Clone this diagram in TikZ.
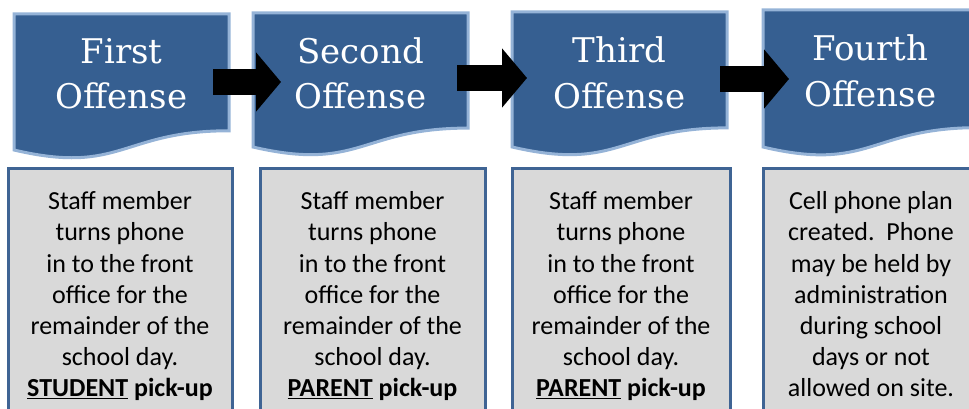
\documentclass[tikz,border=0pt]{standalone}
\usepackage{fontspec}
\setmainfont{Carlito}
\newfontfamily\headfont{DejaVu Serif}
\usetikzlibrary{arrows.meta}
\definecolor{hdfill}{HTML}{365F91}
\definecolor{hdline}{HTML}{95B3D7}
\definecolor{bxfill}{HTML}{D9D9D9}
\definecolor{bxline}{HTML}{3F6494}
\newcommand\docshape[3]{%
  \pgfmathsetmacro\xa{#1}\pgfmathsetmacro\xb{#1+215}\pgfmathsetmacro\xm{#1+107.5}%
  \pgfmathsetmacro\yr{#2+0.802*#3}\pgfmathsetmacro\yc{#2+1.1075*#3}\pgfmathsetmacro\yl{#2+0.934*#3}%
  \draw[docbox] (\xa,#2) -- (\xb,#2) -- (\xb,\yr) .. controls (\xm,\yr) and (\xm,\yc) .. (\xa,\yl) -- cycle;}
\tikzset{
  docbox/.style={fill=hdfill, draw=hdline, line width=3pt},
  headtxt/.style={text=white, align=center, inner sep=0pt, font=\headfont\fontsize{34}{45.5}\selectfont},
  infobox/.style={fill=bxfill, draw=bxline, line width=3pt},
  infotxt/.style={text=black, align=center, inner sep=0pt, anchor=north, font=\fontsize{26}{31.2}\selectfont},
  blockarrow/.style={draw=black, line width=26pt, -{Triangle[length=25pt,width=58pt]}}
}
\begin{document}
\begin{tikzpicture}[x=1pt,y=-1pt]
\useasboundingbox (0,0) rectangle (969,409);
\clip (0,0) rectangle (969,409);
% header shapes
\docshape{14}{14}{145.6}
\docshape{253}{13}{143.5}
\docshape{512}{12}{144.5}
\docshape{763}{10}{146.7}
% header texts
\node[headtxt] (h1) at (121.5,73.5) {First\\Offense};
\node[headtxt] (h2) at (360.5,73.5) {Second\\Offense};
\node[headtxt] (h3) at (619.5,73) {Third\\Offense};
\node[headtxt] (h4) at (870.5,71) {Fourth\\Offense};
% arrows
\coordinate (a1s) at (213,82);
\coordinate (a1e) at (281,82);
\coordinate (a2s) at (457,78);
\coordinate (a2e) at (527,78);
\coordinate (a3s) at (720,79);
\coordinate (a3e) at (789,79);
\draw[blockarrow] (a1s) -- (a1e);
\draw[blockarrow] (a2s) -- (a2e);
\draw[blockarrow] (a3s) -- (a3e);
% lower boxes
\draw[infobox] (8,168) rectangle (232,425);
\draw[infobox] (260,168) rectangle (485,425);
\draw[infobox] (512,168) rectangle (730,425);
\draw[infobox] (763,168) rectangle (979,425);
\node[infotxt] (t1) at (120,191.5) {Staff member\\turns phone\\in to the front\\office for the\\remainder of the\\school day.\\\textbf{\underline{STUDENT} pick-up}};
\node[infotxt] (t2) at (372.5,191.5) {Staff member\\turns phone\\in to the front\\office for the\\remainder of the\\school day.\\\textbf{\underline{PARENT} pick-up}};
\node[infotxt] (t3) at (621,191.5) {Staff member\\turns phone\\in to the front\\office for the\\remainder of the\\school day.\\\textbf{\underline{PARENT} pick-up}};
\node[infotxt] (t4) at (871,191.5) {Cell phone plan\\created.\ \ Phone\\may be held by\\administration\\during school\\days or not\\allowed on site.};
\end{tikzpicture}
\end{document}
